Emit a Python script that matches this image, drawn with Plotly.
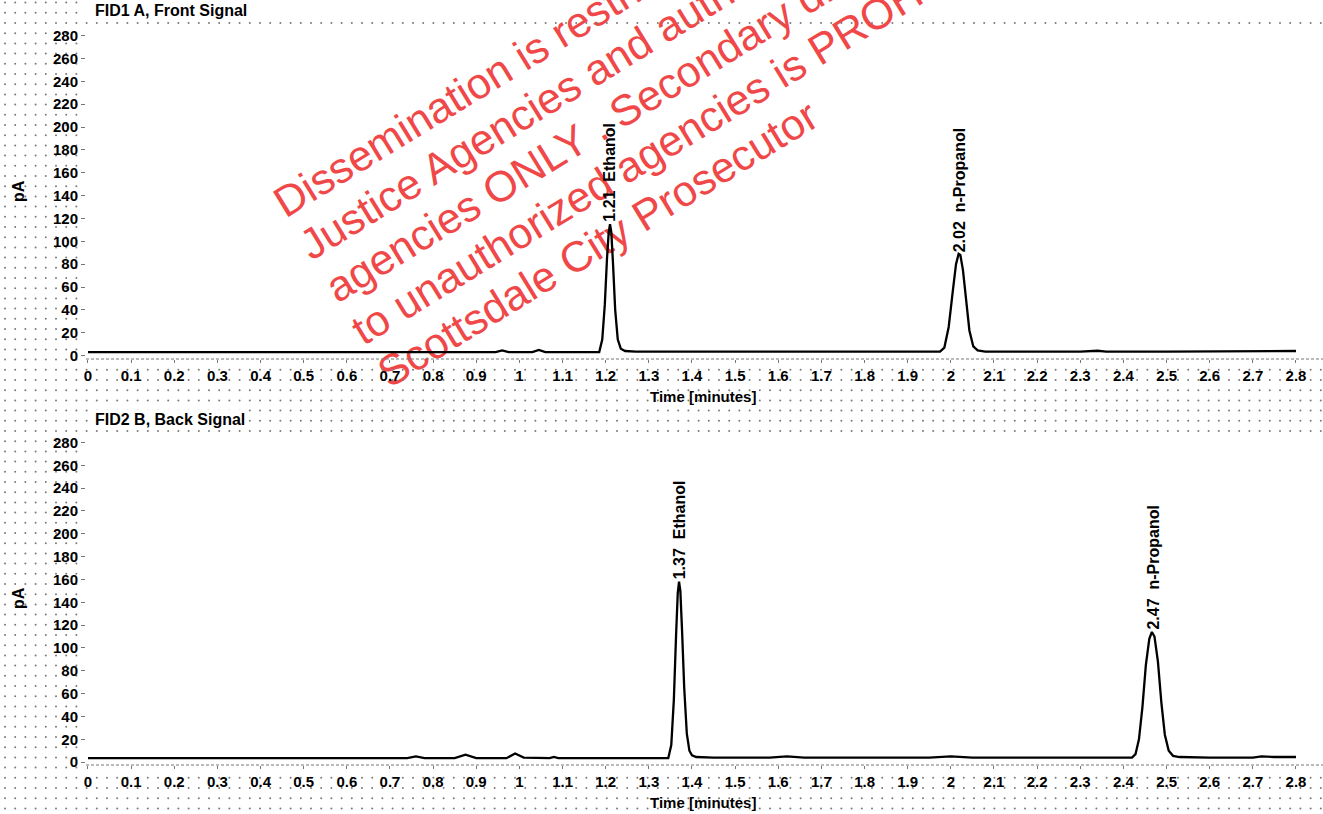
import numpy as np
import plotly.graph_objects as go

# FID1 A, Front Signal  (time in minutes, signal in pA)
front_time = [0.00, 0.30, 0.60, 0.90, 0.945, 0.96, 0.975, 1.03, 1.045, 1.06, 1.10,
              1.185, 1.192, 1.198, 1.203, 1.207, 1.21, 1.213, 1.217, 1.222, 1.228,
              1.235, 1.245, 1.27, 1.60, 1.90, 1.975, 1.985, 1.995, 2.005, 2.012,
              2.018, 2.022, 2.028, 2.035, 2.043, 2.052, 2.062, 2.08, 2.30, 2.34,
              2.36, 2.50, 2.80]
front_pa = [3, 3, 3, 3, 3, 4.5, 3, 3, 5, 3, 3,
            3, 14, 45, 85, 108, 115, 108, 80, 40, 14,
            6, 4, 3.5, 3.5, 3.5, 3.5, 7, 25, 58, 80,
            89, 88, 75, 50, 22, 8, 4.5, 3.5, 3.5, 4.2,
            3.5, 3.5, 4]

# FID2 B, Back Signal
back_time = [0.00, 0.40, 0.74, 0.76, 0.78, 0.85, 0.875, 0.90, 0.97, 0.99, 1.01,
             1.07, 1.08, 1.09, 1.30, 1.345, 1.352, 1.358, 1.363, 1.367, 1.37,
             1.373, 1.377, 1.382, 1.388, 1.394, 1.40, 1.41, 1.45, 1.58, 1.62,
             1.66, 1.95, 2.00, 2.05, 2.42, 2.428, 2.436, 2.444, 2.452, 2.46,
             2.466, 2.472, 2.48, 2.488, 2.496, 2.505, 2.515, 2.53, 2.60, 2.70,
             2.72, 2.75, 2.80]
back_pa = [3.5, 3.5, 3.5, 5, 3.5, 3.5, 6.5, 3.5, 3.5, 7.5, 4,
           3.5, 4.5, 3.5, 3.5, 3.5, 15, 55, 110, 148, 158,
           150, 115, 65, 25, 10, 6, 4.5, 4, 4, 5,
           4, 4, 5, 4, 4, 7, 20, 48, 85, 108,
           114, 110, 88, 52, 24, 10, 5.5, 4.5, 4, 4,
           5, 4.5, 4.5]

front_peak_rt = [1.21, 2.02]
front_peak_name = ["Ethanol", "n-Propanol"]
back_peak_rt = [1.37, 2.47]
back_peak_name = ["Ethanol", "n-Propanol"]

x_ticks = [0, 0.1, 0.2, 0.3, 0.4, 0.5, 0.6, 0.7, 0.8, 0.9, 1, 1.1, 1.2, 1.3, 1.4,
           1.5, 1.6, 1.7, 1.8, 1.9, 2, 2.1, 2.2, 2.3, 2.4, 2.5, 2.6, 2.7, 2.8]
x_tick_text = ["0", "0.1", "0.2", "0.3", "0.4", "0.5", "0.6", "0.7", "0.8", "0.9",
               "1", "1.1", "1.2", "1.3", "1.4", "1.5", "1.6", "1.7", "1.8", "1.9",
               "2", "2.1", "2.2", "2.3", "2.4", "2.5", "2.6", "2.7", "2.8"]
y_ticks = [0, 20, 40, 60, 80, 100, 120, 140, 160, 180, 200, 220, 240, 260, 280]

watermark = ["Dissemination is restricted to Criminal",
             "Justice Agencies and authorized",
             "agencies ONLY . Secondary dissemination",
             "to unauthorized agencies is PROHIBITED",
             "Scottsdale City Prosecutor"]

W, H = 1323, 814
FONT = "Arial, Liberation Sans, sans-serif"


def px(x):
    return x / W


def py(y):
    return 1 - y / H


fig = go.Figure()

# dotted background of the printout (outside the plot windows)
gx, gy = np.meshgrid(np.arange(5, W, 10.2), np.arange(2.6, H, 10.2))
inside = (gx >= 86) & ((gy < 20) | ((gy > 26) & (gy < 362)) | ((gy > 434) & (gy < 768)))
fig.add_trace(go.Scatter(x=gx[~inside], y=gy[~inside], mode="markers",
                         marker=dict(size=2, color="#7a7a7a"),
                         hoverinfo="skip", xaxis="x", yaxis="y"))

fig.add_trace(go.Scatter(x=front_time, y=front_pa, mode="lines",
                         line=dict(color="black", width=2.3), xaxis="x2", yaxis="y2"))
fig.add_trace(go.Scatter(x=back_time, y=back_pa, mode="lines",
                         line=dict(color="black", width=2.3), xaxis="x3", yaxis="y3"))

xdom = [px(86), 1.0]
xrange = [-0.0046, 2.8626]
xaxis_style = dict(domain=xdom, range=xrange, tickvals=x_ticks, ticktext=x_tick_text,
                   ticks="outside", ticklen=3, tickcolor="#777", showgrid=False,
                   zeroline=False, showline=False, automargin=False,
                   tickfont=dict(family=FONT, size=15, color="black", weight="bold"))
yaxis_style = dict(tickvals=y_ticks, ticks="outside", ticklen=4, tickcolor="#777",
                   showgrid=False, zeroline=False, showline=False, automargin=False,
                   tickfont=dict(family=FONT, size=15, color="black", weight="bold"))

annotations = []
for rt, name in zip(front_peak_rt, front_peak_name):
    top = max(v for t, v in zip(front_time, front_pa) if abs(t - rt) < 0.02)
    annotations.append(dict(x=rt, y=top, xref="x2", yref="y2", showarrow=False,
                            text=f"{rt:.2f}\u00a0\u00a0{name}", textangle=-90,
                            xanchor="center", yanchor="bottom",
                            font=dict(family=FONT, size=16, color="black", weight="bold")))
for rt, name in zip(back_peak_rt, back_peak_name):
    top = max(v for t, v in zip(back_time, back_pa) if abs(t - rt) < 0.02)
    annotations.append(dict(x=rt, y=top, xref="x3", yref="y3", showarrow=False,
                            text=f"{rt:.2f}\u00a0\u00a0{name}", textangle=-90,
                            xanchor="center", yanchor="bottom",
                            font=dict(family=FONT, size=16, color="black", weight="bold")))

for title, ty, pay, tmy in [("FID1 A, Front Signal", 11, 191, 396),
                            ("FID2 B, Back Signal", 419, 598, 802)]:
    annotations.append(dict(x=px(93), y=py(ty), xref="paper", yref="paper", showarrow=False,
                            text=title, xanchor="left", yanchor="middle", bgcolor="white",
                            font=dict(family=FONT, size=16, color="black", weight="bold")))
    annotations.append(dict(x=px(18), y=py(pay), xref="paper", yref="paper", showarrow=False,
                            text="pA", textangle=-90, xanchor="center", yanchor="middle",
                            font=dict(family=FONT, size=16, color="black", weight="bold")))
    annotations.append(dict(x=px(703), y=py(tmy), xref="paper", yref="paper", showarrow=False,
                            text="Time [minutes]", xanchor="center", yanchor="middle",
                            font=dict(family=FONT, size=15, color="black", weight="bold")))

shapes = []
# dashed baseline axis under each window
for ay in (359, 765):
    shapes.append(dict(type="line", xref="paper", yref="paper", x0=px(86), x1=1,
                       y0=py(ay), y1=py(ay), line=dict(color="#777", width=1, dash="3px,2px")))

# red watermark, drawn beneath the chromatogram
ang = np.deg2rad(31.5)
for i, line in enumerate(watermark):
    sx = 392 - 26 * (4 - i)
    sy = 393 - 42.5 * (4 - i)
    ex = sx + 600 * np.cos(ang)
    ey = sy - 600 * np.sin(ang)
    shapes.append(dict(type="line", xref="paper", yref="paper", layer="below",
                       x0=px(sx), y0=py(sy), x1=px(ex), y1=py(ey),
                       line=dict(color="rgba(0,0,0,0)", width=0),
                       label=dict(text=line, textposition="start", padding=0,
                                  font=dict(family=FONT, size=43, color="rgb(240,72,72)"))))

fig.update_layout(
    width=W, height=H, template="none", showlegend=False,
    paper_bgcolor="white", plot_bgcolor="rgba(0,0,0,0)",
    margin=dict(l=0, r=0, t=0, b=0),
    xaxis=dict(domain=[0, 1], range=[0, W], visible=False, fixedrange=True),
    yaxis=dict(domain=[0, 1], range=[H, 0], visible=False, fixedrange=True),
    xaxis2=dict(xaxis_style, anchor="y2"),
    yaxis2=dict(yaxis_style, domain=[py(359), py(23)], range=[-3, 291], anchor="x2"),
    xaxis3=dict(xaxis_style, anchor="y3"),
    yaxis3=dict(yaxis_style, domain=[py(765), py(431)], range=[-2.5, 290], anchor="x3"),
    annotations=annotations,
    shapes=shapes,
)

fig.write_html("out.html", config={"displayModeBar": False},
               post_script="document.body.style.margin='0';")
